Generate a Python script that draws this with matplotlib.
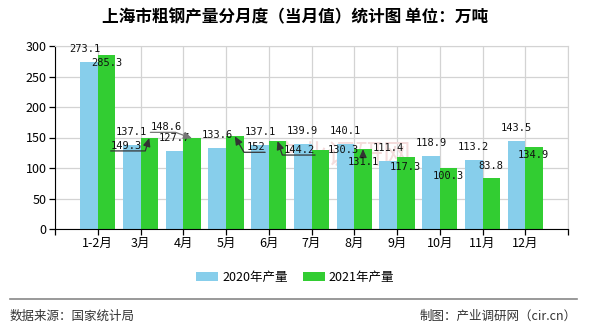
import numpy as np
import matplotlib
matplotlib.use("Agg")
import matplotlib.pyplot as plt

plt.rcParams['font.family'] = ['Noto Sans CJK SC', 'DejaVu Sans']

BLUE = "#87ceeb"; GREEN = "#32cd32"; GRID = "#d3d3d3"; INKC = "#111111"

months = ["1-2月", "3月", "4月", "5月", "6月", "7月", "8月", "9月", "10月", "11月", "12月"]
prod_2020 = [273.1, 137.1, 127.7, 133.6, 137.1, 139.9, 140.1, 111.4, 118.9, 113.2, 143.5]
prod_2021 = [285.3, 149.3, 148.6, 152, 144.2, 130.3, 131.1, 117.3, 100.3, 83.8, 134.9]
yticks = [0, 50, 100, 150, 200, 250, 300]

# label offsets in pixels from the bar top (echarts moved a few of them around)
off_2020 = [(-4, 13)] + [(0, 13)] * 10
off_2021 = [(0, -8), (-23, -8), (-26, 11), (21, -11), (22, -9), (23, 0),
            (0, -13), (0, -10), (0, -8), (0, 12), (-1, -8)]
# leaders: index -> (relpos, connectionstyle, colour)
leaders = {
    1: ((0, 0), "angle,angleA=0,angleB=73,rad=0", "#333333"),
    2: ((0, 0), "angle,angleA=0,angleB=-20,rad=0", "#777777"),
    3: ((1, 0), "angle,angleA=0,angleB=120,rad=0", "#333333"),
    4: ((1, 0), "angle,angleA=0,angleB=109,rad=0", "#333333"),
    6: ((0.5, 1), "arc3,rad=0", "#333333"),
}

fig = plt.figure(figsize=(5.9, 3.3), dpi=100)
ax = fig.add_axes([55/590, 1-229/330, 513/590, 183/330])

x = np.arange(1, len(months) + 1)
w = 0.41
ax.bar(x - w/2, prod_2020, w, color=BLUE, zorder=2, label="2020年产量")
ax.bar(x + w/2, prod_2021, w, color=GREEN, zorder=2, label="2021年产量")

ax.text(6.7, 120, "产业调研网", fontsize=20, color="#f4dcdc", ha="center", va="center", zorder=1)

lab = dict(fontsize=7.5, family="DejaVu Sans Mono", color=INKC, ha="center", va="center",
           textcoords="offset pixels", zorder=5)
for i, v in enumerate(prod_2020):
    ax.annotate(f"{v:g}", (x[i] - w/2, v), xytext=off_2020[i], **lab)
for i, v in enumerate(prod_2021):
    kw = dict(lab)
    if i in leaders:
        rp, cs, col = leaders[i]
        kw["arrowprops"] = dict(arrowstyle="-|>,head_length=0.5,head_width=0.22", color=col,
                                lw=0.9, relpos=rp, connectionstyle=cs, patchA=None,
                                shrinkA=0, shrinkB=0, mutation_scale=10)
    ax.annotate(f"{v:g}", (x[i] + w/2, v), xytext=off_2021[i], **kw)

ax.set_xlim(0, len(months) + 1)
ax.set_ylim(0, 300)
ax.set_xticks(np.arange(0, len(months) + 2))
ax.set_xticklabels([""] + months + [""], fontsize=9)
ax.set_yticks(yticks)
ax.set_yticklabels([str(t) for t in yticks], fontsize=9)
ax.grid(color=GRID, lw=0.9, zorder=0)
ax.set_axisbelow(True)
for s in ("top", "right"):
    ax.spines[s].set_color(GRID)
for s in ("left", "bottom"):
    ax.spines[s].set_color("#000000")
ax.tick_params(axis="both", colors="#000000", length=4, width=0.9, pad=2)

fig.text(0.5, 1-17/330, "上海市粗钢产量分月度（当月值）统计图 单位：万吨",
         fontsize=12, fontweight="bold", ha="center", va="center")

fig.legend(loc="center", bbox_to_anchor=(0.5, 1-277/330), ncol=2, frameon=False,
           fontsize=9, handlelength=1.8, handleheight=0.7, columnspacing=1.2, handletextpad=0.3)

fig.add_artist(plt.Line2D([10/590, 577/590], [1-299/330, 1-299/330], color="#888888", lw=1.2))
fig.text(10/590, 1-316/330, "数据来源：国家统计局", fontsize=9, color="#333333", va="center")
fig.text(577/590, 1-316/330, "制图：产业调研网（cir.cn）", fontsize=9, color="#333333",
         va="center", ha="right")

fig.savefig("out.png", dpi=100)
